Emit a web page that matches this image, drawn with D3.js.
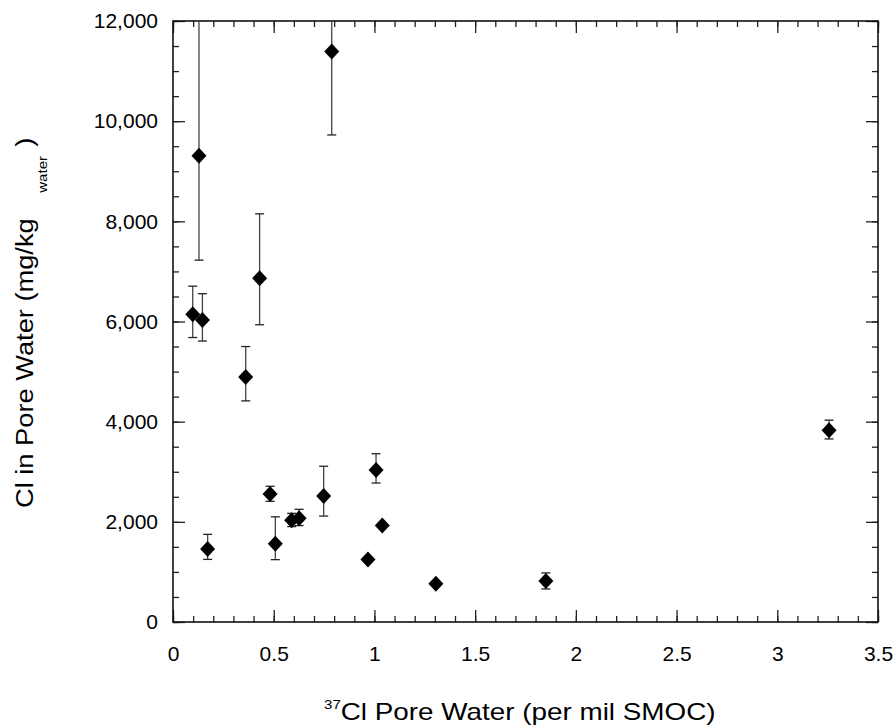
<!DOCTYPE html>
<html>
<head>
<meta charset="utf-8">
<script src="https://cdn.jsdelivr.net/npm/d3@7"></script>
<style>
  body { margin: 0; background: #fff; }
  svg { display: block; }
  text { font-family: "Liberation Sans", Arial, sans-serif; fill: #000; }
</style>
</head>
<body>
<svg id="chart" width="896" height="726"></svg>
<script>
// ---- data ----
const delta37Cl = [0.098, 0.129, 0.146, 0.172, 0.361, 0.430, 0.482, 0.508, 0.589, 0.626, 0.748, 0.788, 0.968, 1.008, 1.039, 1.305, 1.851, 3.257];
const clConc    = [6145, 9310, 6030, 1460, 4890, 6865, 2555, 1560, 2030, 2070, 2515, 11390, 1250, 3035, 1925, 762, 820, 3830];
const errLow    = [5680, 7225, 5610, 1250, 4415, 5935, 2410, 1245, 1905, 1925, 2115, 9725, 1250, 2775, 1925, 762, 660, 3655];
const errHigh   = [6705, 12600, 6555, 1750, 5500, 8150, 2710, 2100, 2170, 2250, 3110, 13060, 1250, 3360, 1925, 762, 980, 4030];

const xMajorTicks = [0, 0.5, 1, 1.5, 2, 2.5, 3, 3.5];
const xTickLabels = ["0", "0.5", "1", "1.5", "2", "2.5", "3", "3.5"];
const xMinorTicks = d3.range(0, 36).map(i => i / 10);
const yMajorTicks = [0, 2000, 4000, 6000, 8000, 10000, 12000];
const yTickLabels = ["0", "2,000", "4,000", "6,000", "8,000", "10,000", "12,000"];
const yMinorTicks = d3.range(0, 25).map(i => i * 500);

const xTitleSup = "37";
const xTitleMain = "Cl Pore Water (per mil SMOC)";
const yTitleMain = "Cl in Pore Water (mg/kg";
const yTitleSub = "water";
const yTitleEnd = ")";

// ---- layout ----
const L = 173, R = 878, T = 21, B = 622;
const svg = d3.select("#chart");
const x = d3.scaleLinear().domain([0, 3.5]).range([L, R]);
const y = d3.scaleLinear().domain([0, 12000]).range([B, T]);

const tickColor = "#222";

function styleAxis(g) {
  g.select(".domain").remove();
  g.selectAll(".tick line").attr("stroke", tickColor).attr("stroke-width", 1.3);
  g.selectAll(".tick text").style("font-size", "21px").attr("fill", "#000");
}

// minor ticks
svg.append("g").attr("transform", `translate(0,${B})`)
  .call(d3.axisBottom(x).tickValues(xMinorTicks).tickSize(-6).tickFormat(""))
  .call(styleAxis);
svg.append("g").attr("transform", `translate(0,${T})`)
  .call(d3.axisTop(x).tickValues(xMinorTicks).tickSize(-6).tickFormat(""))
  .call(styleAxis);
svg.append("g").attr("transform", `translate(${L},0)`)
  .call(d3.axisLeft(y).tickValues(yMinorTicks).tickSize(-6).tickFormat(""))
  .call(styleAxis);
svg.append("g").attr("transform", `translate(${R},0)`)
  .call(d3.axisRight(y).tickValues(yMinorTicks).tickSize(-6).tickFormat(""))
  .call(styleAxis);

// major ticks
svg.append("g").attr("transform", `translate(0,${B})`)
  .call(d3.axisBottom(x).tickValues(xMajorTicks).tickSize(-12).tickPadding(24)
    .tickFormat((d, i) => xTickLabels[i]))
  .call(styleAxis);
svg.append("g").attr("transform", `translate(0,${T})`)
  .call(d3.axisTop(x).tickValues(xMajorTicks).tickSize(-12).tickFormat(""))
  .call(styleAxis);
svg.append("g").attr("transform", `translate(${L},0)`)
  .call(d3.axisLeft(y).tickValues(yMajorTicks).tickSize(-12).tickPadding(15)
    .tickFormat((d, i) => yTickLabels[i]))
  .call(styleAxis);
svg.append("g").attr("transform", `translate(${R},0)`)
  .call(d3.axisRight(y).tickValues(yMajorTicks).tickSize(-12).tickFormat(""))
  .call(styleAxis);

// frame
svg.append("rect")
  .attr("x", L).attr("y", T).attr("width", R - L).attr("height", B - T)
  .attr("fill", "none").attr("stroke", "#111").attr("stroke-width", 1.6);

// clip
svg.append("clipPath").attr("id", "plotClip")
  .append("rect").attr("x", L).attr("y", T).attr("width", R - L).attr("height", B - T);

const data = delta37Cl.map((d, i) => ({ x: d, y: clConc[i], lo: errLow[i], hi: errHigh[i] }));
const plot = svg.append("g").attr("clip-path", "url(#plotClip)");

// error bars
const capW = 4.5;
const eb = plot.append("g").selectAll("g").data(data.filter(d => d.hi > d.lo)).join("g");
eb.append("line")
  .attr("x1", d => x(d.x)).attr("x2", d => x(d.x))
  .attr("y1", d => y(d.lo)).attr("y2", d => y(d.hi))
  .attr("stroke", "#444").attr("stroke-width", 1.3);
eb.append("line")
  .attr("x1", d => x(d.x) - capW).attr("x2", d => x(d.x) + capW)
  .attr("y1", d => y(d.lo)).attr("y2", d => y(d.lo))
  .attr("stroke", "#222").attr("stroke-width", 1.3);
eb.append("line")
  .attr("x1", d => x(d.x) - capW).attr("x2", d => x(d.x) + capW)
  .attr("y1", d => y(d.hi)).attr("y2", d => y(d.hi))
  .attr("stroke", "#222").attr("stroke-width", 1.3);

// diamonds
const hw = 7.5, hh = 8;
plot.append("g").selectAll("path").data(data).join("path")
  .attr("d", d => {
    const cx = x(d.x), cy = y(d.y);
    return `M${cx},${cy - hh}L${cx + hw},${cy}L${cx},${cy + hh}L${cx - hw},${cy}Z`;
  })
  .attr("fill", "#000");

// x title
const xt = svg.append("text")
  .attr("transform", "translate(324,720) scale(1.16,1)")
  .style("font-size", "24px");
xt.append("tspan").style("font-size", "13px").attr("dy", -11).text(xTitleSup);
xt.append("tspan").attr("dy", 11).text(xTitleMain);

// y title
const yt = svg.append("text")
  .attr("transform", "translate(33,508) rotate(-90) scale(1.16,1)")
  .style("font-size", "23.5px");
yt.append("tspan").text(yTitleMain);
yt.append("tspan").style("font-size", "13px").attr("dx", 22).attr("dy", 14).text(yTitleSub);
yt.append("tspan").attr("dx", 8).attr("dy", -14).text(yTitleEnd);
</script>
</body>
</html>
